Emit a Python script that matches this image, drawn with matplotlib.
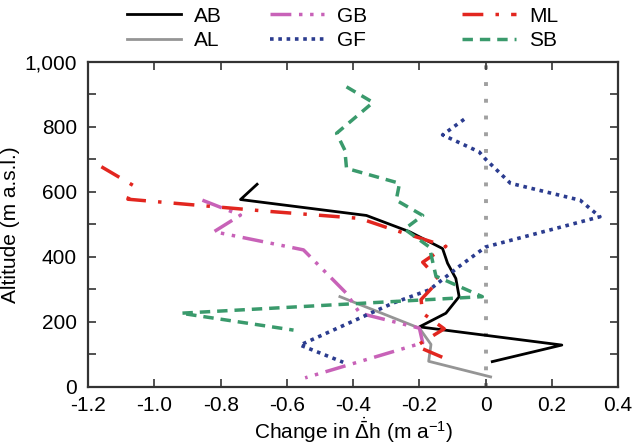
import numpy as np
import matplotlib
matplotlib.use("Agg")
import matplotlib.pyplot as plt
from matplotlib.ticker import MultipleLocator, FuncFormatter
from matplotlib.lines import Line2D

plt.rcParams['font.family'] = ['Liberation Sans', 'DejaVu Sans']
plt.rcParams['mathtext.fontset'] = 'custom'
plt.rcParams['mathtext.rm'] = 'Liberation Sans'
plt.rcParams['mathtext.it'] = 'Liberation Sans:italic'

# elevation-change profiles: (change in m/a, altitude in m)
ab_x = [-0.69, -0.74, -0.36, -0.23, -0.13, -0.115, -0.09, -0.08, -0.12, -0.20, 0.23, 0.02]
ab_y = [623, 576, 527, 477, 425, 380, 333, 277, 226, 184, 128, 77]

al_x = [-0.44, -0.20, -0.165, -0.172, 0.015]
al_y = [277, 180, 130, 78, 30]

gb_x = [-0.855, -0.74, -0.82, -0.55, -0.42, -0.38, -0.20, -0.19, -0.545]
gb_y = [574, 528, 477, 421, 287, 226, 180, 135, 27]

gf_x = [-0.065, -0.13, -0.02, 0.0, 0.075, 0.285, 0.345, 0.0, -0.08, -0.17, -0.28, -0.56, -0.43]
gf_y = [823, 775, 723, 700, 626, 574, 523, 430, 370, 298, 257, 128, 75]

ml_x = [-1.16, -1.065, -1.08, -0.66, -0.38, -0.29, -0.12, -0.19, -0.14, -0.195, -0.19, -0.125, -0.21, -0.10]
ml_y = [677, 620, 577, 540, 518, 487, 432, 383, 328, 268, 226, 178, 125, 77]

sb_x = [-0.42, -0.34, -0.45, -0.425, -0.42, -0.26, -0.27, -0.19, -0.245, -0.17, -0.15, -0.01, -0.92, -0.58]
sb_y = [923, 875, 780, 728, 672, 626, 574, 527, 485, 430, 340, 277, 226, 174]

names = ['AB', 'AL', 'GB', 'GF', 'ML', 'SB']
colors = ['black', '#959595', '#c862b8', '#2b3c8f', '#e2261f', '#3a9a6c']

fig = plt.figure(figsize=(6.34, 4.48), dpi=100)
ax = fig.add_axes([0.139, 0.137, 0.836, 0.725])

# zero reference line
ax.axvline(0, color='#a0a0a0', lw=2.8, linestyle=(0, (1, 3.3)), zorder=1)

styles = {
    'AB': dict(linestyle='-', lw=2.0),
    'AL': dict(linestyle='-', lw=2.0),
    'GB': dict(linestyle=(0, (6, 2.2, 1, 2.2, 1, 2.2)), lw=2.5),
    'GF': dict(linestyle=(0, (1, 1.3)), lw=2.6),
    'ML': dict(linestyle=(0, (6, 3.5, 1, 3.5)), lw=2.5),
    'SB': dict(linestyle=(0, (3, 2)), lw=2.5),
}
series = {'AB': (ab_x, ab_y), 'AL': (al_x, al_y), 'GB': (gb_x, gb_y),
          'GF': (gf_x, gf_y), 'ML': (ml_x, ml_y), 'SB': (sb_x, sb_y)}

handles = []
for name, c in zip(names, colors):
    xs, ys = series[name]
    ax.plot(xs, ys, color=c, zorder=3, **styles[name])
    handles.append(Line2D([], [], color=c, **styles[name]))

ax.set_xlim(-1.2, 0.4)
ax.set_ylim(0, 1000)
ax.xaxis.set_major_locator(MultipleLocator(0.2))
ax.yaxis.set_major_locator(MultipleLocator(200))
ax.yaxis.set_minor_locator(MultipleLocator(100))

def xfmt(v, pos):
    if abs(v) < 1e-9:
        return '0'
    return '%.1f' % v

ax.xaxis.set_major_formatter(FuncFormatter(xfmt))
ax.yaxis.set_major_formatter(FuncFormatter(lambda v, p: '{:,.0f}'.format(v)))

ax.tick_params(which='both', direction='in', top=True, right=True, labelsize=15, color='#333333')
ax.tick_params(which='major', length=6, width=1.2)
ax.tick_params(axis='x', which='major', pad=7)
ax.tick_params(axis='y', which='major', pad=8)
ax.tick_params(which='minor', length=6, width=1.2)
for s in ax.spines.values():
    s.set_linewidth(1.6)
    s.set_color('#333333')

ax.set_xlabel(r'Change in $\dot{\bar{\Delta}}$h (m a$^{-1}$)', fontsize=15, labelpad=0)
ax.set_ylabel('Altitude (m a.s.l.)', fontsize=15, labelpad=3)

# legend in three columns of two
col_x = [0.200, 0.426, 0.729]
for i, x0 in enumerate(col_x):
    leg = fig.legend(handles[2 * i:2 * i + 2], names[2 * i:2 * i + 2],
                     loc='upper left', bbox_to_anchor=(x0, 0.985),
                     frameon=False, fontsize=15, handlelength=2.6,
                     handletextpad=0.6, labelspacing=0.25,
                     borderpad=0, borderaxespad=0)

fig.savefig('out.png', dpi=100)
